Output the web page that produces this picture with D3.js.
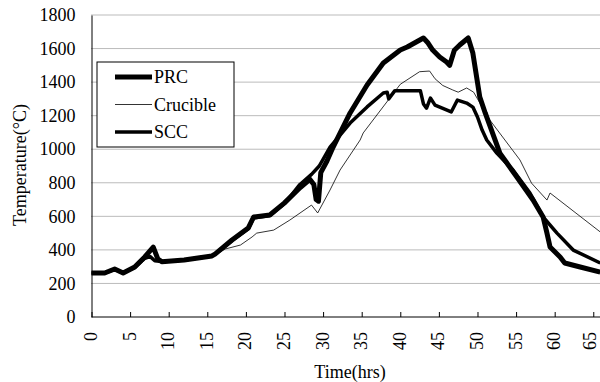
<!DOCTYPE html>
<html>
<head>
<meta charset="utf-8">
<script src="https://cdn.jsdelivr.net/npm/d3@7"></script>
<style>
  body { margin: 0; background: #fff; }
  text { font-family: "Liberation Serif", "Times New Roman", serif; }
</style>
</head>
<body>
<div id="chart"></div>
<script>
// DATA
var prcTime = [0, 1.7, 3, 4.1, 5.6, 6.9, 8, 8.6, 9.1, 12, 15.6, 16, 18.2, 20.3, 21, 23.1, 25, 27, 28.3, 28.8, 29.1, 29.4, 29.7, 30.5, 31.3, 33.5, 35.7, 37.8, 40, 40.9, 43, 43.6, 44.2, 45.1, 46, 46.4, 47, 47.7, 48.8, 49.4, 50.3, 51, 52.9, 55.1, 57.2, 58.5, 59, 59.4, 60.7, 61.3, 63.3, 65.9]
var prcTemp = [262, 262, 286, 262, 298, 358, 417, 345, 330, 340, 364, 375, 459, 530, 596, 608, 680, 770, 820, 790, 700, 690, 860, 930, 1013, 1216, 1383, 1514, 1591, 1609, 1663, 1633, 1591, 1550, 1520, 1500, 1590, 1621, 1663, 1573, 1311, 1216, 977, 834, 697, 596, 500, 417, 358, 322, 298, 268]

var crucTime = [0, 1.7, 3, 4.1, 5.6, 6.9, 7.6, 8.3, 9.1, 12, 15.6, 17.3, 19.3, 20.8, 21.4, 23.6, 25.7, 28.5, 29.3, 30.9, 32.2, 34.8, 35.2, 40, 42.5, 43.8, 44.5, 45.5, 46.8, 47.5, 48.6, 49.5, 50, 51.6, 55.5, 57, 59, 59.4, 65.9]
var crucTemp = [262, 262, 282, 262, 294, 345, 355, 340, 330, 338, 358, 405, 429, 477, 500, 518, 578, 667, 620, 757, 876, 1055, 1097, 1387, 1462, 1466, 1420, 1380, 1353, 1340, 1365, 1340, 1300, 1174, 936, 798, 697, 739, 507]

var sccTime = [0, 1.7, 3, 4.1, 5.6, 6.9, 7.6, 8.2, 9.1, 12, 15.6, 16, 18.2, 20.3, 21, 23.1, 25, 27, 28.5, 29.5, 30.9, 33.5, 35.7, 37.8, 38.3, 38.5, 39.3, 42.6, 43, 43.4, 43.9, 44.5, 46.6, 47.4, 48.6, 49.4, 50, 50.6, 51.2, 52.5, 54.6, 56.8, 58.5, 60.3, 62.4, 65.9]
var sccTemp = [262, 262, 284, 262, 296, 350, 360, 335, 330, 340, 364, 375, 455, 525, 590, 605, 675, 790, 850, 900, 1013, 1156, 1252, 1335, 1340, 1300, 1349, 1349, 1270, 1245, 1305, 1263, 1222, 1293, 1275, 1251, 1192, 1114, 1055, 977, 876, 739, 596, 500, 399, 322]

var xTicks = [0, 5, 10, 15, 20, 25, 30, 35, 40, 45, 50, 55, 60, 65]
var yTicks = [0, 200, 400, 600, 800, 1000, 1200, 1400, 1600, 1800]

var seriesNames = ['PRC', 'Crucible', 'SCC']
var seriesWidths = [5, 0.8, 3.5]

var w = 600
var h = 382
var serif = '"Liberation Serif", "Times New Roman", serif'

var svg = d3.select('#chart').append('svg')
    .attr('width', w)
    .attr('height', h)

// SCALES
var x = d3.scaleLinear().domain([0, 66]).range([91.5, 601])
var y = d3.scaleLinear().domain([0, 1800]).range([317, 15])

// GRIDLINES (DOTTED)
svg.append('g')
    .selectAll('line')
    .data(yTicks.filter(function(d){ return d > 0 }))
    .enter().append('line')
    .attr('x1', x(0))
    .attr('x2', w)
    .attr('y1', function(d){ return y(d) })
    .attr('y2', function(d){ return y(d) })
    .attr('stroke', '#777')
    .attr('stroke-width', 1)
    .attr('stroke-dasharray', '1,1')

// X AXIS: TICKS POINT UP, LABELS ROTATED
var xAxis = svg.append('g')
    .attr('transform', 'translate(0,' + y(0) + ')')
    .call(d3.axisBottom(x).tickValues(xTicks).tickSize(-5).tickSizeOuter(0).tickFormat(''))
xAxis.select('.domain').attr('stroke', '#000').attr('d', 'M' + x(0) + ',0H' + w)
xAxis.selectAll('.tick line').attr('stroke', '#000')

// last label sits right at the edge, keep it inside the window
svg.append('g')
    .selectAll('text')
    .data(xTicks)
    .enter().append('text')
    .attr('transform', function(d){ return 'translate(' + Math.min(x(d) + 5.5, 595.5) + ',332) rotate(-90)' })
    .attr('text-anchor', 'end')
    .style('font-size', '18px')
    .style('font-family', serif)
    .text(function(d){ return d })

// Y AXIS
var yAxis = svg.append('g')
    .attr('transform', 'translate(' + x(0) + ',0)')
    .attr('font-family', serif)
    .attr('font-size', 18)
    .call(d3.axisLeft(y).tickValues(yTicks).tickFormat(d3.format('d')).tickSize(0).tickPadding(16).tickSizeOuter(0))
yAxis.select('.domain').attr('stroke', '#000')
yAxis.selectAll('.tick text')
    .style('font-size', '18px')
    .style('font-family', serif)
    .attr('fill', '#000')

// AXIS TITLES
svg.append('text')
    .attr('transform', 'translate(26,165) rotate(-90)')
    .attr('text-anchor', 'middle')
    .style('font-size', '18px')
    .text('Temperature(°C)')

svg.append('text')
    .attr('x', 350)
    .attr('y', 378)
    .attr('text-anchor', 'middle')
    .style('font-size', '18px')
    .text('Time(hrs)')

// LINES
var line = d3.line()
    .x(function(d){ return x(d[0]) })
    .y(function(d){ return y(d[1]) })

function pairs(t, v){ return t.map(function(d, i){ return [d, v[i]] }) }

var series = [pairs(prcTime, prcTemp), pairs(crucTime, crucTemp), pairs(sccTime, sccTemp)]

svg.append('g')
    .selectAll('path')
    .data([1, 2, 0])
    .enter().append('path')
    .attr('d', function(i){ return line(series[i]) })
    .attr('fill', 'none')
    .attr('stroke', '#000')
    .attr('stroke-width', function(i){ return seriesWidths[i] })
    .attr('stroke-linejoin', 'round')

// LEGEND
var legend = svg.append('g')
legend.append('rect')
    .attr('x', 97).attr('y', 62)
    .attr('width', 137).attr('height', 85)
    .attr('fill', '#fff')
    .attr('stroke', '#000')
    .attr('stroke-width', 1)

seriesNames.forEach(function(name, i){
    var ly = 77 + i * 27.5
    legend.append('line')
        .attr('x1', 115).attr('x2', 152)
        .attr('y1', ly).attr('y2', ly)
        .attr('stroke', '#000')
        .attr('stroke-width', seriesWidths[i])
    legend.append('text')
        .attr('x', 154).attr('y', ly + 6)
        .style('font-size', '18px')
        .text(name)
})
</script>
</body>
</html>
